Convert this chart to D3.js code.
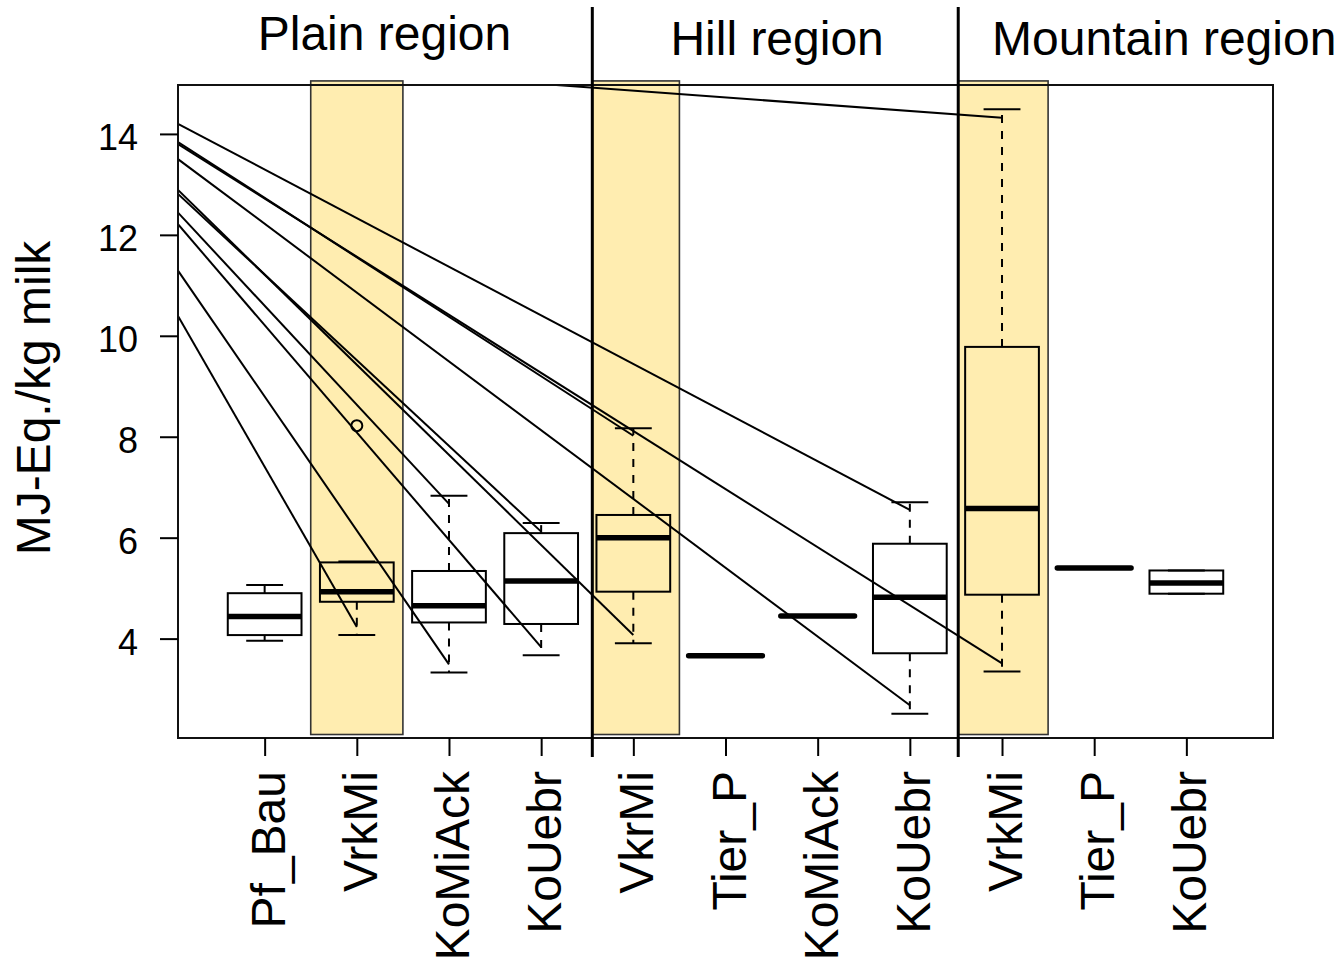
<!DOCTYPE html>
<html>
<head>
<meta charset="utf-8">
<script src="https://cdn.jsdelivr.net/npm/d3@7"></script>
<style>
  html, body { margin: 0; padding: 0; background: #fff; }
  svg { display: block; font-family: "Liberation Sans", Arial, sans-serif; }
</style>
</head>
<body>
<svg id="chart" width="1340" height="964"></svg>
<script>
// Group labels along the x axis (one box per group)
const categories = ["Pf_Bau", "VrkMi", "KoMiAck", "KoUebr", "VkrMi", "Tier_P",
                    "KoMiAck", "KoUebr", "VrkMi", "Tier_P", "KoUebr"];

// Box statistics per group (MJ-Eq./kg milk)
const lowWhisker  = [3.96, 4.07, 3.33, 3.67, 3.91, 3.66, 4.45, 2.51, 3.35, 5.40, 4.89];
const lowerQuart  = [4.07, 4.73, 4.32, 4.29, 4.93, 3.66, 4.45, 3.71, 4.87, 5.40, 4.89];
const medians     = [4.44, 4.93, 4.65, 5.14, 6.00, 3.66, 4.45, 4.82, 6.58, 5.40, 5.10];
const upperQuart  = [4.90, 5.51, 5.34, 6.09, 6.45, 3.66, 4.45, 5.88, 9.78, 5.40, 5.35];
const highWhisker = [5.06, 5.53, 6.83, 6.29, 8.17, 3.66, 4.45, 6.70, 14.49, 5.40, 5.35];

// Outlying observations
const outlierGroup = [2];
const outlierValue = [8.22];

// Highlighted groups (shaded columns)
const highlighted = [2, 5, 9];

// Regions and their separators
const regionNames = ["Plain region", "Hill region", "Mountain region"];
const regionLabelX = [2.30, 6.56, 10.76];
const regionLabelBaseline = [50, 55, 55];
const separators = [4.555, 8.525];

// Connecting lines: value at the left edge -> value at a group
const lineStartValue = [14.20, 13.84, 13.80, 13.50, 12.89, 12.81, 12.44, 12.21, 11.29, 10.39, 15.52];
const lineEndGroup   = [8, 5, 9, 8, 5, 4, 3, 4, 3, 2, 9];
const lineEndValue   = [6.55, 8.02, 3.51, 2.68, 4.07, 6.12, 6.67, 3.83, 3.49, 4.23, 14.32];

// Axis
const yTicks = [4, 6, 8, 10, 12, 14];
const yTitle = "MJ-Eq./kg milk";

// ---------------------------------------------------------------
const plot = { left: 178, right: 1273, top: 85, bottom: 738 };
const svg = d3.select("#chart");

const n = categories.length;
// x range 0.5 .. n+0.5 widened by 4% of its span on each side
const xSpan = n;
const x = d3.scaleLinear()
  .domain([0.5 - 0.04 * xSpan, n + 0.5 + 0.04 * xSpan])
  .range([plot.left, plot.right]);

const allVals = lowWhisker.concat(highWhisker, outlierValue);
const yMin = d3.min(allVals), yMax = d3.max(allVals);
const yPad = 0.04 * (yMax - yMin);
const y = d3.scaleLinear().domain([yMin - yPad, yMax + yPad]).range([plot.bottom, plot.top]);

const unit = x(2) - x(1);
const boxHalf = 0.4 * unit;
const capHalf = 0.2 * unit;

// Clip for connecting lines
svg.append("defs").append("clipPath").attr("id", "plotClip")
  .append("rect")
  .attr("x", plot.left).attr("y", plot.top)
  .attr("width", plot.right - plot.left).attr("height", plot.bottom - plot.top);

// Shaded columns
const shadeTop = 15.05, shadeBottom = 2.10;
const shadeLeft = d => {
  let l = d - 0.5;
  separators.forEach(s => { if (s > l && s < d) l = s; });
  return l;
};
svg.append("g").selectAll("rect").data(highlighted).join("rect")
  .attr("x", d => x(shadeLeft(d)))
  .attr("width", d => x(d + 0.5) - x(shadeLeft(d)))
  .attr("y", y(shadeTop))
  .attr("height", y(shadeBottom) - y(shadeTop))
  .attr("fill", "#FFEDB0")
  .attr("stroke", "#333")
  .attr("stroke-width", 1.6);

// Connecting lines
svg.append("g").attr("clip-path", "url(#plotClip)")
  .selectAll("line").data(d3.range(lineStartValue.length)).join("line")
  .attr("x1", x.range()[0]).attr("y1", i => y(lineStartValue[i]))
  .attr("x2", i => x(lineEndGroup[i])).attr("y2", i => y(lineEndValue[i]))
  .attr("stroke", "#000").attr("stroke-width", 2);

// Boxplots
const idx = d3.range(n);
const boxes = svg.append("g").selectAll("g").data(idx).join("g");

// whiskers (dashed)
boxes.append("line")
  .attr("x1", i => x(i + 1)).attr("x2", i => x(i + 1))
  .attr("y1", i => y(upperQuart[i])).attr("y2", i => y(highWhisker[i]))
  .attr("stroke", "#000").attr("stroke-width", 2).attr("stroke-dasharray", "8,8")
  .attr("display", i => highWhisker[i] > upperQuart[i] ? null : "none");
boxes.append("line")
  .attr("x1", i => x(i + 1)).attr("x2", i => x(i + 1))
  .attr("y1", i => y(lowerQuart[i])).attr("y2", i => y(lowWhisker[i]))
  .attr("stroke", "#000").attr("stroke-width", 2).attr("stroke-dasharray", "8,8")
  .attr("display", i => lowWhisker[i] < lowerQuart[i] ? null : "none");

// caps
boxes.append("line")
  .attr("x1", i => x(i + 1) - capHalf).attr("x2", i => x(i + 1) + capHalf)
  .attr("y1", i => y(highWhisker[i])).attr("y2", i => y(highWhisker[i]))
  .attr("stroke", "#000").attr("stroke-width", 2)
  .attr("display", i => highWhisker[i] > lowWhisker[i] ? null : "none");
boxes.append("line")
  .attr("x1", i => x(i + 1) - capHalf).attr("x2", i => x(i + 1) + capHalf)
  .attr("y1", i => y(lowWhisker[i])).attr("y2", i => y(lowWhisker[i]))
  .attr("stroke", "#000").attr("stroke-width", 2)
  .attr("display", i => highWhisker[i] > lowWhisker[i] ? null : "none");

// box
boxes.append("rect")
  .attr("x", i => x(i + 1) - boxHalf)
  .attr("width", 2 * boxHalf)
  .attr("y", i => y(upperQuart[i]))
  .attr("height", i => y(lowerQuart[i]) - y(upperQuart[i]))
  .attr("fill", "none").attr("stroke", "#000").attr("stroke-width", 2)
  .attr("display", i => upperQuart[i] > lowerQuart[i] ? null : "none");

// median
boxes.append("line")
  .attr("x1", i => x(i + 1) - boxHalf).attr("x2", i => x(i + 1) + boxHalf)
  .attr("y1", i => y(medians[i])).attr("y2", i => y(medians[i]))
  .attr("stroke", "#000").attr("stroke-width", 5.5)
  .attr("stroke-linecap", i => upperQuart[i] > lowerQuart[i] ? "butt" : "round");

// outliers
svg.append("g").selectAll("circle").data(d3.range(outlierGroup.length)).join("circle")
  .attr("cx", i => x(outlierGroup[i])).attr("cy", i => y(outlierValue[i]))
  .attr("r", 5.5).attr("fill", "none").attr("stroke", "#000").attr("stroke-width", 2);

// Plot frame
svg.append("rect")
  .attr("x", plot.left).attr("y", plot.top)
  .attr("width", plot.right - plot.left).attr("height", plot.bottom - plot.top)
  .attr("fill", "none").attr("stroke", "#111").attr("stroke-width", 2);

// Y axis
const yAxis = d3.axisLeft(y).tickValues(yTicks).tickSize(18).tickPadding(22).tickFormat(d3.format("d"));
const gy = svg.append("g").attr("transform", `translate(${plot.left},0)`).call(yAxis);
gy.select(".domain").remove();
gy.selectAll(".tick line").attr("stroke", "#000").attr("stroke-width", 2);
gy.selectAll(".tick text").attr("font-size", 36).attr("fill", "#000")
  .attr("font-family", "Liberation Sans, Arial, sans-serif").attr("dy", "0.44em");

// X axis
const xAxis = d3.axisBottom(x).tickValues(d3.range(1, n + 1)).tickSize(18).tickFormat(() => "");
const gx = svg.append("g").attr("transform", `translate(0,${plot.bottom})`).call(xAxis);
gx.select(".domain").remove();
gx.selectAll(".tick line").attr("stroke", "#000").attr("stroke-width", 2);

svg.append("g").selectAll("text").data(idx).join("text")
  .attr("transform", i => `translate(${x(i + 1) + 20},771) rotate(-90)`)
  .attr("text-anchor", "end")
  .attr("font-size", 48)
  .attr("fill", "#000")
  .text(i => categories[i]);

// Y title
svg.append("text")
  .attr("transform", "translate(50,398) rotate(-90)")
  .attr("text-anchor", "middle")
  .attr("font-size", 48)
  .attr("fill", "#000")
  .text(yTitle);

// Region separators
svg.append("g").selectAll("line").data(separators).join("line")
  .attr("x1", d => x(d)).attr("x2", d => x(d))
  .attr("y1", 7).attr("y2", 757)
  .attr("stroke", "#000").attr("stroke-width", 3);

// Region titles
svg.append("g").selectAll("text").data(d3.range(regionNames.length)).join("text")
  .attr("x", i => x(regionLabelX[i]))
  .attr("y", i => regionLabelBaseline[i])
  .attr("text-anchor", "middle")
  .attr("font-size", 48)
  .attr("fill", "#000")
  .text(i => regionNames[i]);
</script>
</body>
</html>
